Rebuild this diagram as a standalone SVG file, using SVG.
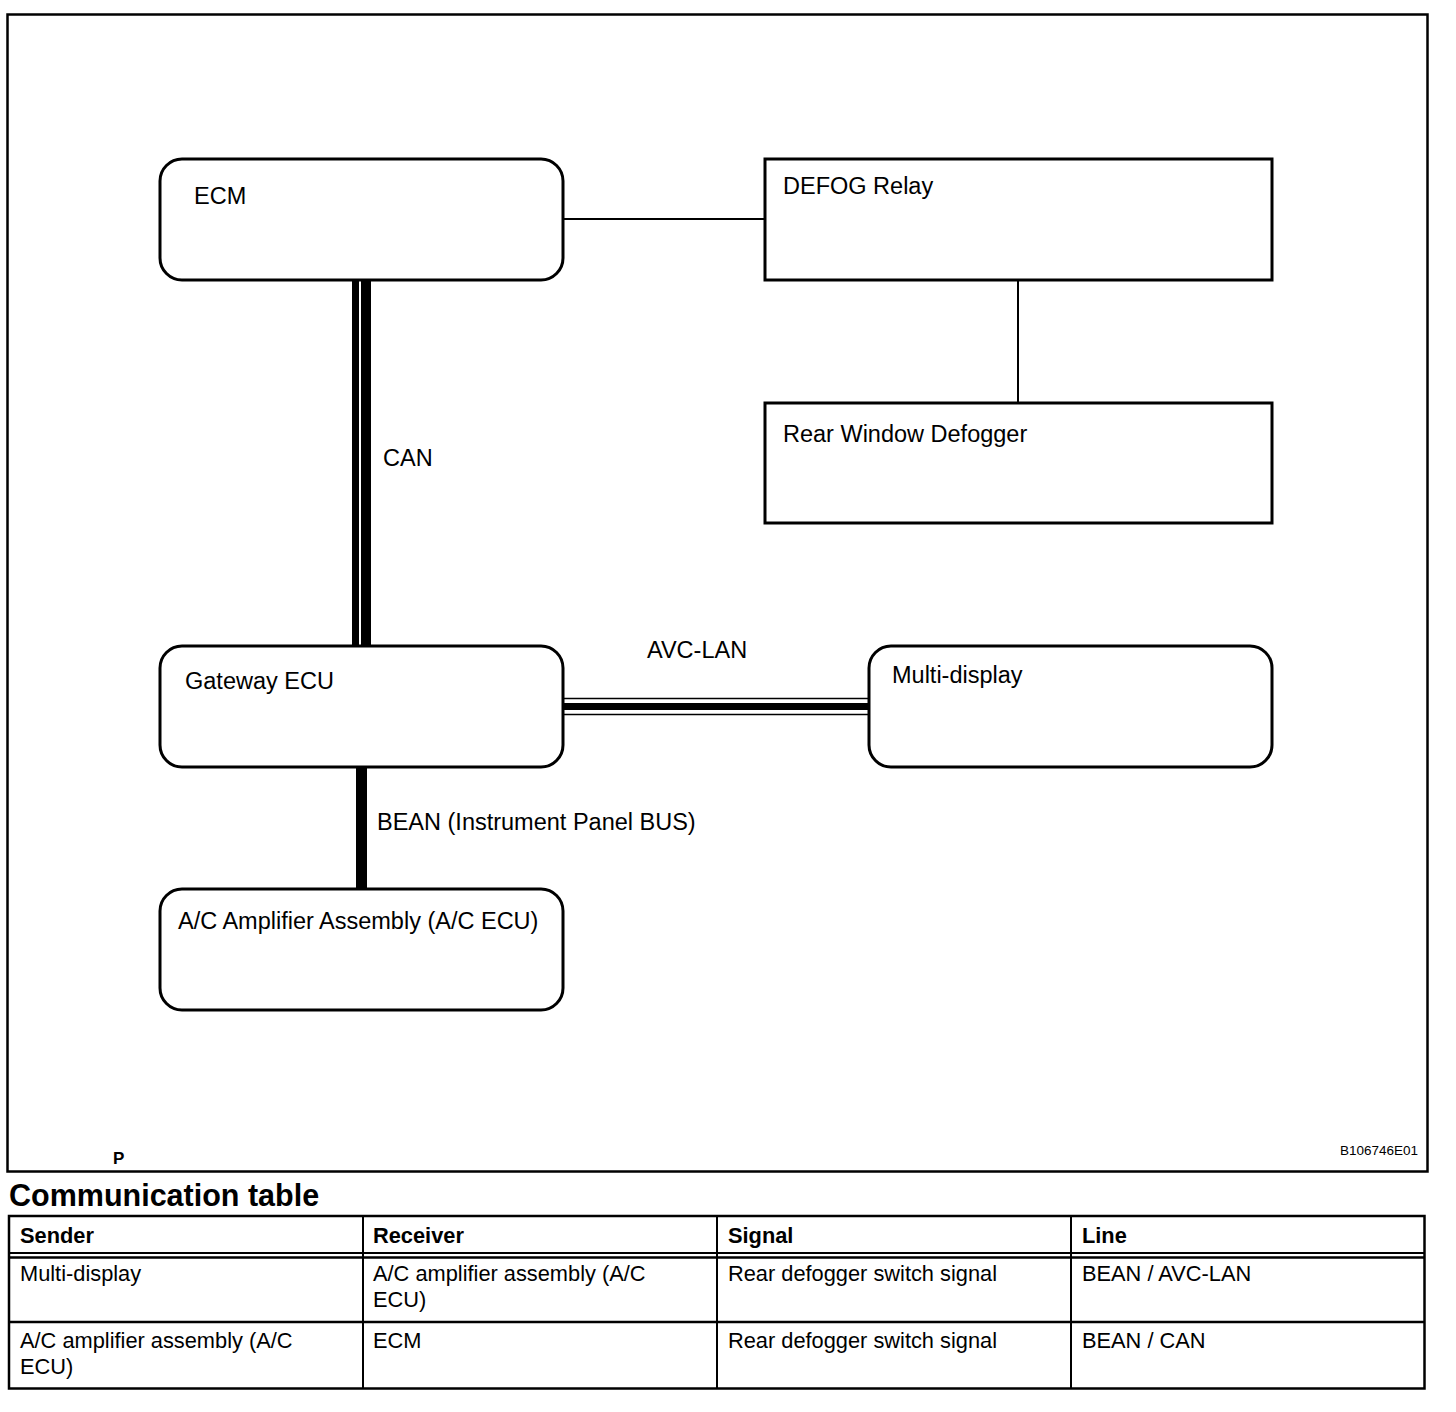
<svg xmlns="http://www.w3.org/2000/svg" width="1456" height="1412" viewBox="0 0 1456 1412">
<style>
.box{fill:#fff;stroke:#000;stroke-width:3}
.t{font-family:"Liberation Sans",Arial,sans-serif;font-size:23.5px;fill:#000}
.tt{font-family:"Liberation Sans",Arial,sans-serif;font-size:21.8px;fill:#000}
.th{font-family:"Liberation Sans",Arial,sans-serif;font-size:21.8px;font-weight:bold;fill:#000}
.ln{stroke:#000;fill:none}
</style>
<rect width="1456" height="1412" fill="#fff"/>
<rect x="7.5" y="14.5" width="1420" height="1157" fill="none" stroke="#000" stroke-width="2.5"/>
<g id="connectors">
<line class="ln" x1="563" y1="219" x2="765" y2="219" stroke-width="2"/>
<line class="ln" x1="1018" y1="280" x2="1018" y2="403" stroke-width="2"/>
<rect x="352" y="280" width="7" height="366" fill="#000"/>
<rect x="361" y="280" width="10" height="366" fill="#000"/>
<line class="ln" x1="563" y1="698.5" x2="869" y2="698.5" stroke-width="1.5"/>
<rect x="563" y="703" width="306" height="7" fill="#000"/>
<line class="ln" x1="563" y1="714.5" x2="869" y2="714.5" stroke-width="1.5"/>
<rect x="356" y="767" width="11" height="122" fill="#000"/>
<text class="t" x="383" y="466">CAN</text>
<text class="t" x="647" y="658">AVC-LAN</text>
<text class="t" x="377" y="830">BEAN (Instrument Panel BUS)</text>
</g>
<g id="ecm">
<rect class="box" x="160" y="159" width="403" height="121" rx="22"/>
<text class="t" x="194" y="204">ECM</text>
</g>
<g id="defog-relay">
<rect class="box" x="765" y="159" width="507" height="121"/>
<text class="t" x="783" y="194">DEFOG Relay</text>
</g>
<g id="rear-window-defogger">
<rect class="box" x="765" y="403" width="507" height="120"/>
<text class="t" x="783" y="442">Rear Window Defogger</text>
</g>
<g id="gateway-ecu">
<rect class="box" x="160" y="646" width="403" height="121" rx="22"/>
<text class="t" x="185" y="689">Gateway ECU</text>
</g>
<g id="multi-display">
<rect class="box" x="869" y="646" width="403" height="121" rx="22"/>
<text class="t" x="892" y="683">Multi-display</text>
</g>
<g id="ac-amplifier">
<rect class="box" x="160" y="889" width="403" height="121" rx="22"/>
<text class="t" x="178" y="929">A/C Amplifier Assembly (A/C ECU)</text>
</g>
<text x="113" y="1164" font-family="Liberation Sans,Arial,sans-serif" font-size="17" font-weight="bold">P</text>
<text x="1340" y="1155" font-family="Liberation Sans,Arial,sans-serif" font-size="13.5">B106746E01</text>
<text x="9" y="1206" font-family="Liberation Sans,Arial,sans-serif" font-size="30.5" font-weight="bold">Communication table</text>
<g id="table">
<rect x="9" y="1216" width="1415.5" height="172.5" fill="none" stroke="#000" stroke-width="2.5"/>
<line class="ln" x1="9" y1="1253" x2="1424" y2="1253" stroke-width="2"/>
<line class="ln" x1="9" y1="1257.5" x2="1424" y2="1257.5" stroke-width="2.5"/>
<line class="ln" x1="9" y1="1322" x2="1424" y2="1322" stroke-width="2.5"/>
<line class="ln" x1="363" y1="1216" x2="363" y2="1389" stroke-width="2"/>
<line class="ln" x1="717" y1="1216" x2="717" y2="1389" stroke-width="2"/>
<line class="ln" x1="1071" y1="1216" x2="1071" y2="1389" stroke-width="2"/>
<text class="th" x="20" y="1243">Sender</text>
<text class="th" x="373" y="1243">Receiver</text>
<text class="th" x="728" y="1243">Signal</text>
<text class="th" x="1082" y="1243">Line</text>
<text class="tt" x="20" y="1281">Multi-display</text>
<text class="tt" x="373" y="1281">A/C amplifier assembly (A/C</text>
<text class="tt" x="373" y="1307">ECU)</text>
<text class="tt" x="728" y="1281">Rear defogger switch signal</text>
<text class="tt" x="1082" y="1281">BEAN / AVC-LAN</text>
<text class="tt" x="20" y="1348">A/C amplifier assembly (A/C</text>
<text class="tt" x="20" y="1374">ECU)</text>
<text class="tt" x="373" y="1348">ECM</text>
<text class="tt" x="728" y="1348">Rear defogger switch signal</text>
<text class="tt" x="1082" y="1348">BEAN / CAN</text>
</g>
</svg>
